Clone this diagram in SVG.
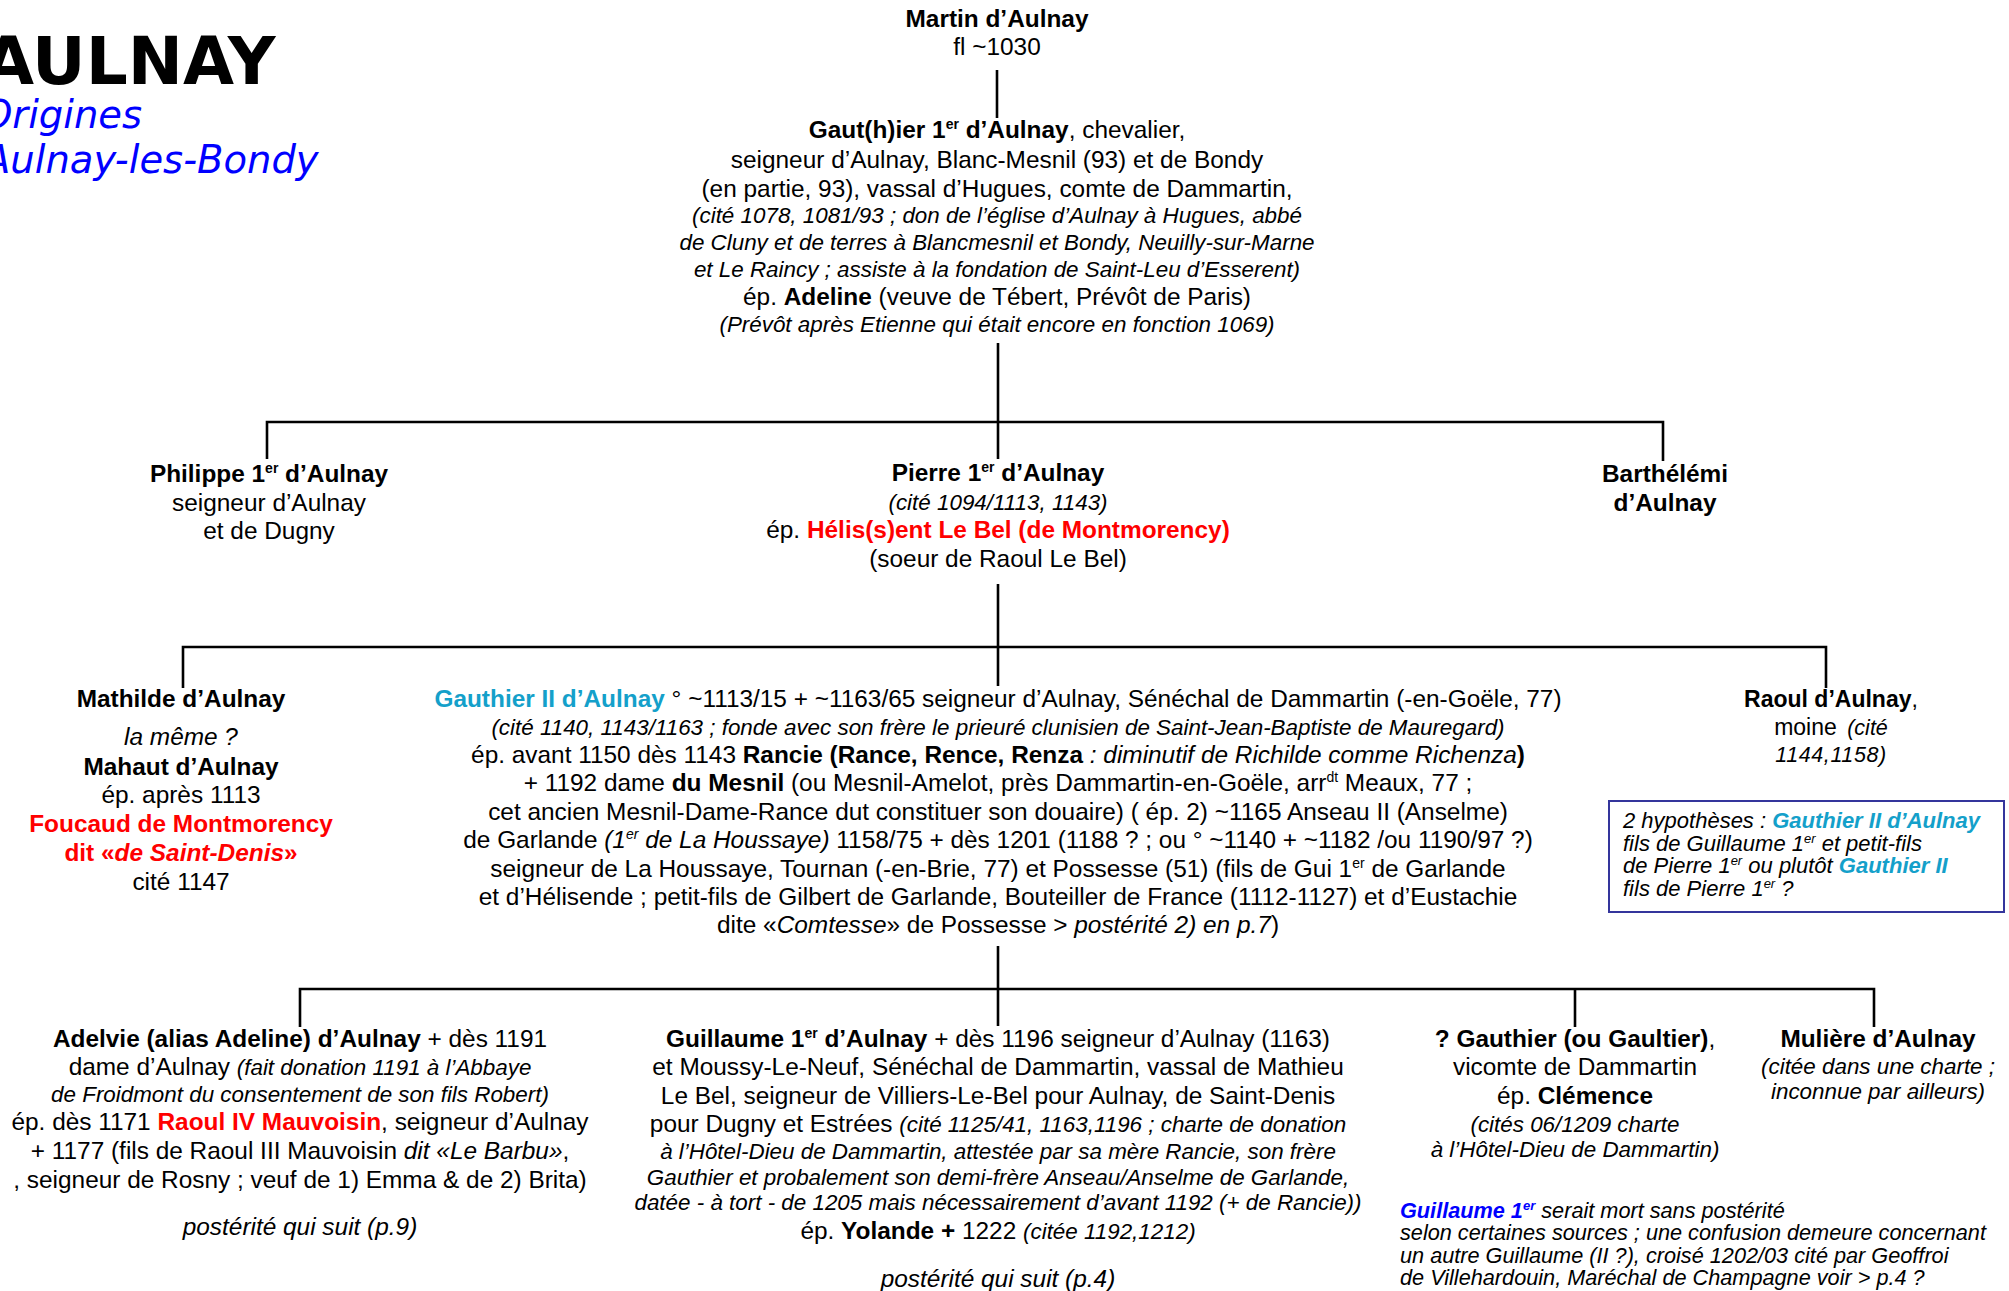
<svg xmlns="http://www.w3.org/2000/svg" width="2009" height="1291" viewBox="0 0 2009 1291">
<style>
.t{font-family:"Liberation Sans",Arial,sans-serif;font-size:24.4px;fill:#000;text-anchor:middle}
.l{text-anchor:start}
.b{font-weight:bold}
.it{font-style:italic}
.si{font-style:italic;font-size:22.4px}
.red{fill:#FF0000;font-weight:bold}
.cy{fill:#14A0CA;font-weight:bold}
.bl{fill:#0000FF;font-weight:bold}
.sup{font-size:14px}
.title{font-family:"DejaVu Sans",Verdana,sans-serif;font-weight:bold;font-size:66px;fill:#000}
.sub{font-family:"DejaVu Sans",Verdana,sans-serif;font-style:italic;font-size:38.5px;fill:#0000FF}
.conn{fill:none;stroke:#000;stroke-width:2.6}
</style>
<rect width="2009" height="1291" fill="#fff"/>
<g id="title">
<text class="title" x="-17" y="84">AULNAY</text>
<text class="sub" x="-18" y="128">Origines</text>
<text class="sub" x="-16" y="173">Aulnay-les-Bondy</text>
</g>
<g id="connectors">
<path class="conn" d="M997 70V118"/>
<path class="conn" d="M998 343V459"/>
<path class="conn" d="M267 459V422H1663V461"/>
<path class="conn" d="M998 584V686"/>
<path class="conn" d="M183 688V647H1826V688"/>
<path class="conn" d="M998 946V1026"/>
<path class="conn" d="M300 1027V989H1874V1027"/>
<path class="conn" d="M1575 989V1027"/>
</g>
<g id="martin">
<text class="t b" x="997" y="27">Martin d’Aulnay</text>
<text class="t" x="997" y="55">fl ~1030</text>
</g>
<g id="gautier1">
<text class="t" x="997" y="138"><tspan class="b">Gaut(h)ier 1</tspan><tspan class="b sup" dy="-9">er</tspan><tspan class="b" dy="9"> d’Aulnay</tspan>, chevalier,</text>
<text class="t" x="997" y="168">seigneur d’Aulnay, Blanc-Mesnil (93) et de Bondy</text>
<text class="t" x="997" y="197">(en partie, 93), vassal d’Hugues, comte de Dammartin,</text>
<text class="t si" x="997" y="223">(cité 1078, 1081/93 ; don de l’église d’Aulnay à Hugues, abbé</text>
<text class="t si" x="997" y="250">de Cluny et de terres à Blancmesnil et Bondy, Neuilly-sur-Marne</text>
<text class="t si" x="997" y="277">et Le Raincy ; assiste à la fondation de Saint-Leu d’Esserent)</text>
<text class="t" x="997" y="305">ép. <tspan class="b">Adeline</tspan> (veuve de Tébert, Prévôt de Paris)</text>
<text class="t si" x="997" y="332">(Prévôt après Etienne qui était encore en fonction 1069)</text>
</g>
<g id="philippe">
<text class="t" x="269" y="482"><tspan class="b">Philippe 1</tspan><tspan class="b sup" dy="-9">er</tspan><tspan class="b" dy="9"> d’Aulnay</tspan></text>
<text class="t" x="269" y="511">seigneur  d’Aulnay</text>
<text class="t" x="269" y="539">et de Dugny</text>
</g>
<g id="pierre">
<text class="t" x="998" y="481"><tspan class="b">Pierre 1</tspan><tspan class="b sup" dy="-9">er</tspan><tspan class="b" dy="9"> d’Aulnay</tspan></text>
<text class="t si" x="998" y="510">(cité 1094/1113, 1143)</text>
<text class="t" x="998" y="538">ép. <tspan class="red">Hélis(s)ent Le Bel (de Montmorency)</tspan></text>
<text class="t" x="998" y="567">(soeur de Raoul Le Bel)</text>
</g>
<g id="barthelemi">
<text class="t b" x="1665" y="482">Barthélémi</text>
<text class="t b" x="1665" y="511">d’Aulnay</text>
</g>
<g id="mathilde">
<text class="t b" x="181" y="707">Mathilde d’Aulnay</text>
<text class="t it" x="181" y="745">la même ?</text>
<text class="t b" x="181" y="775">Mahaut d’Aulnay</text>
<text class="t" x="181" y="803">ép. après 1113</text>
<text class="t red" x="181" y="832">Foucaud de Montmorency</text>
<text class="t red" x="181" y="861">dit «<tspan class="it">de Saint-Denis</tspan>»</text>
<text class="t" x="181" y="890">cité 1147</text>
</g>
<g id="gauthier2">
<text class="t" x="998" y="707"><tspan class="cy">Gauthier II d’Aulnay</tspan> ° ~1113/15 + ~1163/65 seigneur d’Aulnay, Sénéchal de Dammartin (-en-Goële, 77)</text>
<text class="t si" x="998" y="735">(cité 1140, 1143/1163 ; fonde avec son frère le prieuré clunisien de Saint-Jean-Baptiste de Mauregard)</text>
<text class="t" x="998" y="763">ép. avant 1150 dès 1143 <tspan class="b">Rancie (Rance, Rence, Renza</tspan><tspan class="it"> : diminutif de Richilde comme Richenza</tspan><tspan class="b">)</tspan></text>
<text class="t" x="998" y="791">+ 1192 dame <tspan class="b">du Mesnil</tspan> (ou Mesnil-Amelot, près Dammartin-en-Goële, arr<tspan class="sup" dy="-9">dt</tspan><tspan dy="9"> Meaux, 77 ;</tspan></text>
<text class="t" x="998" y="820">cet ancien Mesnil-Dame-Rance dut constituer son douaire) ( ép. 2) ~1165 Anseau II (Anselme)</text>
<text class="t" x="998" y="848">de Garlande <tspan class="it">(1</tspan><tspan class="it sup" dy="-9">er</tspan><tspan class="it" dy="9"> de La Houssaye)</tspan> 1158/75 + dès 1201 (1188 ? ; ou ° ~1140 + ~1182 /ou 1190/97 ?)</text>
<text class="t" x="998" y="877">seigneur de La Houssaye, Tournan (-en-Brie, 77) et Possesse (51) (fils de Gui 1<tspan class="sup" dy="-9">er</tspan><tspan dy="9"> de Garlande</tspan></text>
<text class="t" x="998" y="905">et d’Hélisende ; petit-fils de Gilbert de Garlande, Bouteiller de France (1112-1127) et d’Eustachie</text>
<text class="t" x="998" y="933">dite «<tspan class="it">Comtesse</tspan>» de Possesse &gt; <tspan class="it">postérité 2) en p.7</tspan>)</text>
</g>
<g id="raoul">
<text class="t" x="1831" y="707" style="font-size:23px"><tspan class="b">Raoul d’Aulnay</tspan>,</text>
<text class="t" x="1831" y="735" style="font-size:23px;word-spacing:4px">moine  <tspan class="it" style="font-size:21.5px">(cité</tspan></text>
<text class="t it" x="1831" y="762" style="font-size:21.5px;letter-spacing:0.6px">1144,1158)</text>
</g>
<g id="hypotheses">
<rect x="1609" y="801" width="395" height="111" fill="none" stroke="#34359C" stroke-width="2"/>
<text class="t l it" x="1623" y="828" style="font-size:22px">2 hypothèses : <tspan class="cy">Gauthier II d’Aulnay</tspan></text>
<text class="t l it" x="1623" y="851" style="font-size:22px">fils de Guillaume 1<tspan class="sup" style="font-size:13px" dy="-8">er</tspan><tspan dy="8"> et petit-fils</tspan></text>
<text class="t l it" x="1623" y="873" style="font-size:22px">de Pierre 1<tspan class="sup" style="font-size:13px" dy="-8">er</tspan><tspan dy="8"> ou plutôt   </tspan><tspan class="cy">Gauthier II</tspan></text>
<text class="t l it" x="1623" y="896" style="font-size:22px">fils de Pierre 1<tspan class="sup" style="font-size:13px" dy="-8">er</tspan><tspan dy="8"> ?</tspan></text>
</g>
<g id="adelvie">
<text class="t" x="300" y="1047"><tspan class="b">Adelvie (alias Adeline) d’Aulnay</tspan> + dès 1191</text>
<text class="t" x="300" y="1075">dame d’Aulnay <tspan class="si">(fait donation 1191 à l’Abbaye</tspan></text>
<text class="t si" x="300" y="1102">de Froidmont du consentement de son fils Robert)</text>
<text class="t" x="300" y="1130">ép. dès 1171 <tspan class="red">Raoul IV Mauvoisin</tspan>, seigneur d’Aulnay</text>
<text class="t" x="300" y="1159">+ 1177 (fils de Raoul III Mauvoisin <tspan class="it">dit «Le Barbu»</tspan>,</text>
<text class="t" x="300" y="1188">, seigneur de Rosny ; veuf de 1) Emma &amp; de 2) Brita)</text>
<text class="t it" x="300" y="1235">postérité qui suit (p.9)</text>
</g>
<g id="guillaume1">
<text class="t" x="998" y="1047"><tspan class="b">Guillaume 1</tspan><tspan class="b sup" dy="-9">er</tspan><tspan class="b" dy="9"> d’Aulnay</tspan> + dès 1196 seigneur d’Aulnay (1163)</text>
<text class="t" x="998" y="1075">et Moussy-Le-Neuf, Sénéchal de Dammartin, vassal de Mathieu</text>
<text class="t" x="998" y="1104">Le Bel, seigneur de Villiers-Le-Bel pour Aulnay, de Saint-Denis</text>
<text class="t" x="998" y="1132">pour Dugny et Estrées <tspan class="si">(cité 1125/41, 1163,1196 ; charte de donation</tspan></text>
<text class="t si" x="998" y="1159">à l’Hôtel-Dieu de Dammartin, attestée par sa mère Rancie, son frère</text>
<text class="t si" x="998" y="1185">Gauthier et probalement son demi-frère Anseau/Anselme de Garlande,</text>
<text class="t si" x="998" y="1210">datée - à tort - de 1205 mais nécessairement d’avant 1192 (+ de Rancie))</text>
<text class="t" x="998" y="1239">ép. <tspan class="b">Yolande +</tspan> 1222 <tspan class="si">(citée 1192,1212)</tspan></text>
<text class="t it" x="998" y="1287">postérité qui suit (p.4)</text>
</g>
<g id="gaultier">
<text class="t" x="1575" y="1047"><tspan class="b">? Gauthier (ou Gaultier)</tspan>,</text>
<text class="t" x="1575" y="1075">vicomte de Dammartin</text>
<text class="t" x="1575" y="1104">ép. <tspan class="b">Clémence</tspan></text>
<text class="t si" x="1575" y="1132">(cités 06/1209 charte</text>
<text class="t si" x="1575" y="1157">à l’Hôtel-Dieu de Dammartin)</text>
</g>
<g id="muliere">
<text class="t b" x="1878" y="1047">Mulière d’Aulnay</text>
<text class="t si" x="1878" y="1074">(citée dans une charte ;</text>
<text class="t si" x="1878" y="1099">inconnue par ailleurs)</text>
</g>
<g id="note">
<text class="t l it" x="1400" y="1218" style="font-size:21.7px"><tspan class="bl">Guillaume 1</tspan><tspan class="bl sup" style="font-size:13px" dy="-8">er</tspan><tspan dy="8"> serait mort sans postérité</tspan></text>
<text class="t l it" x="1400" y="1240" style="font-size:21.7px">selon certaines sources ; une confusion demeure concernant</text>
<text class="t l it" x="1400" y="1263" style="font-size:21.7px">un autre Guillaume (II ?), croisé 1202/03 cité par Geoffroi</text>
<text class="t l it" x="1400" y="1285" style="font-size:21.7px">de Villehardouin, Maréchal de Champagne voir &gt; p.4 ?</text>
</g>
</svg>
